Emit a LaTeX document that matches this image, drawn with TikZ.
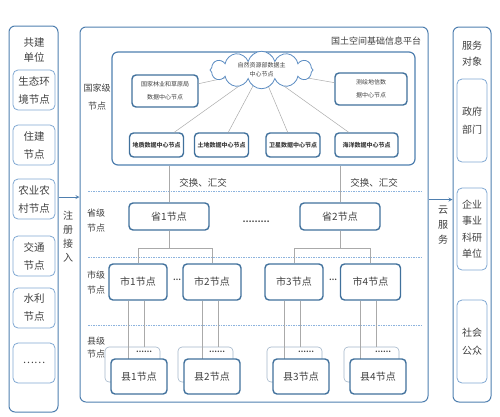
\documentclass[tikz,border=0pt]{standalone}
\usepackage{fontspec}
\setmainfont{Noto Sans CJK SC}
\usepackage{xcolor}
\usetikzlibrary{shapes.geometric, shapes.symbols, arrows, positioning, calc}
\definecolor{panelblue}{HTML}{4F7FAF}
\definecolor{boxblue}{HTML}{41719C}
\definecolor{unitblue}{HTML}{7FA7D2}
\definecolor{backblue}{HTML}{A3B6CA}
\definecolor{cloudblue}{HTML}{5B8CC2}
\definecolor{dotblue}{HTML}{8DB3DD}
\definecolor{linegray}{HTML}{AAAAAA}
\definecolor{textgray}{HTML}{404040}
\tikzstyle{panel} = [rectangle, rounded corners=6pt, draw=panelblue, line width=1pt, inner sep=0pt]
\tikzstyle{unit} = [rectangle, rounded corners=5pt, draw=unitblue, line width=0.8pt, inner sep=0pt, minimum width=42pt, minimum height=40pt, align=center, text=textgray, font=\fontsize{10.5}{18}\selectfont]
\tikzstyle{process} = [rectangle, rounded corners=4pt, draw=boxblue, line width=1.4pt, fill=white, inner sep=0pt, text centered, text=textgray, font=\fontsize{10}{12}\selectfont]
\tikzstyle{datacenter} = [process, minimum height=24pt, minimum width=54pt, font=\fontsize{6}{8}\selectfont\bfseries]
\tikzstyle{backbox} = [rectangle, rounded corners=4pt, draw=backblue, line width=0.6pt, fill=white, minimum width=55pt, minimum height=35pt]
\tikzstyle{levellabel} = [align=center, text=textgray, font=\fontsize{9}{15}\selectfont]
\tikzstyle{dotlabel} = [text=textgray, inner sep=0pt, font=\fontsize{7}{8}\selectfont\bfseries]
\tikzstyle{arrow} = [thick,->,>=stealth, draw=panelblue]
\tikzstyle{link} = [draw=linegray, line width=0.5pt]
\tikzstyle{sep} = [draw=dotblue, line width=0.6pt, dash pattern=on 1.5pt off 1pt]

\begin{document}
\begin{tikzpicture}[x=1pt, y=-1pt]
\useasboundingbox (0,0) rectangle (500,416);

% Pannelli
\node (gongjian) [panel, minimum width=49pt, minimum height=386pt] at (33.5,219) {};
\node (pingtai) [panel, minimum width=348pt, minimum height=375pt] at (254,214.5) {};
\node (fuwu) [panel, minimum width=38pt, minimum height=375pt] at (472,214.5) {};
\node (guojia) [panel, line width=1.2pt, minimum width=303pt, minimum height=113pt] at (263.5,108.5) {};

% Unita' di costruzione
\node (gongjiantitle) [levellabel, font=\fontsize{10.5}{16}\selectfont] at (34,50) {共建\\单位};
\node (shengtai) [unit] at (34,90) {生态环\\境节点};
\node (zhujian) [unit] at (34,145) {住建\\节点};
\node (nongye) [unit] at (34,199) {农业农\\村节点};
\node (jiaotong) [unit] at (34,256) {交通\\节点};
\node (shuili) [unit] at (34,308) {水利\\节点};
\node (qita) [unit] at (34,363) {……};

% Oggetti di servizio
\node (fuwutitle) [levellabel, font=\fontsize{10}{16}\selectfont] at (472,54) {服务\\对象};
\node (zhengfu) [unit, minimum width=30pt, minimum height=83pt, font=\fontsize{10}{18}\selectfont] at (472,120.5) {政府\\部门};
\node (qiye) [unit, minimum width=30pt, minimum height=82pt, font=\fontsize{10}{16.5}\selectfont] at (472,229) {企业\\事业\\科研\\单位};
\node (gongzhong) [unit, minimum width=30pt, minimum height=83pt, font=\fontsize{10}{18}\selectfont] at (472,341.5) {社会\\公众};

% Livello nazionale
\node (title) [levellabel] at (376,41) {国土空间基础信息平台};
\node (guojialabel) [levellabel, font=\fontsize{9}{18}\selectfont] at (97,97) {国家级\\节点};
\node (linye) [process, minimum width=66pt, minimum height=32pt, align=center, font=\fontsize{6}{13}\selectfont] at (165,91) {国家林业和草原局\\数据中心节点};
\node (cehui) [process, minimum width=72pt, minimum height=32pt, align=center, font=\fontsize{6}{13}\selectfont] at (371,89) {测绘地信数\\据中心节点};
\node (dizhi) [datacenter] at (156.5,145) {地质数据中心节点};
\node (tudi) [datacenter] at (221.5,145) {土地数据中心节点};
\node (weixing) [datacenter] at (293,145) {卫星数据中心节点};
\node (haiyang) [datacenter, minimum width=63pt] at (366.5,145) {海洋数据中心节点};
\foreach \n in {linye, dizhi, tudi, weixing, haiyang, cehui}
  \draw [link] (261.5,70) -- (\n);
\node (ziran) [shape=cloud, cloud puffs=12, aspect=4.3, draw=cloudblue, line width=0.8pt, fill=white, minimum width=103pt, minimum height=24pt, inner sep=0pt, align=center, text=textgray, font=\fontsize{6}{9}\selectfont] at (261.5,70) {自然资源部数据主\\中心节点};

% Separatori
\draw [sep] (88,191) -- (423,191);
\draw [sep] (88,257) -- (423,257);
\draw [sep] (88,325) -- (423,325);
\node (huijiao1) [levellabel, font=\fontsize{9.5}{12}\selectfont] at (203,183) {交换、汇交};
\node (huijiao2) [levellabel, font=\fontsize{9.5}{12}\selectfont] at (374,183) {交换、汇交};

% Livello provinciale
\node (shenglabel) [levellabel] at (96,221) {省级\\节点};
\node (sheng1) [process, minimum width=80pt, minimum height=27pt] at (169,216.5) {省1节点};
\node (sheng2) [process, minimum width=80pt, minimum height=27pt] at (340,216.5) {省2节点};
\node (shengdots) [dotlabel, font=\fontsize{8}{8}\selectfont\bfseries] at (256,222) {………};
\draw [link] (sheng1.north |- guojia.south) -- (sheng1.north);
\draw [link] (sheng2.north |- guojia.south) -- (sheng2.north);

% Livello comunale
\node (shilabel) [levellabel] at (96,283) {市级\\节点};
\node (shi1) [process, minimum width=58pt, minimum height=36pt] at (138,282) {市1节点};
\node (shi2) [process, minimum width=58pt, minimum height=36pt] at (212,282) {市2节点};
\node (shi3) [process, minimum width=58pt, minimum height=36pt] at (294,282) {市3节点};
\node (shi4) [process, minimum width=60pt, minimum height=36pt] at (370.5,282) {市4节点};
\node (shidots1) [dotlabel] at (177,280) {…};
\node (shidots2) [dotlabel] at (333,280) {…};
\draw [link] (sheng1.south) -- ++(0,18) -| (shi1.north);
\draw [link] (sheng1.south) -- ++(0,18) -| (shi2.north);
\draw [link] (sheng2.south) -- ++(0,18) -| (shi3.north);
\draw [link] (sheng2.south) -- ++(0,18) -| (shi4.north);

% Livello di contea
\node (xianlabel) [levellabel, font=\fontsize{9}{13}\selectfont] at (96,348) {县级\\节点};
\foreach \i/\x in {1/139, 2/212, 3/301, 4/378} {
  \node (xianb\i) [backbox] at ({\x-6.5},364.5) {};
  \node (xiandots\i) [dotlabel] at ({\x+5},352) {……};
  \draw [link] ([xshift=-10pt]shi\i.south) -- ([xshift=-10pt]shi\i.south |- 0,359);
  \draw [link] ([xshift=6pt]shi\i.south) -- ([xshift=6pt]shi\i.south |- xianb\i.north);
  \node (xian\i) [process, minimum width=56pt, minimum height=35pt] at (\x,376.5) {县{\i}节点};
}

% Connessioni esterne
\node (zhuce) [levellabel, font=\fontsize{10}{14}\selectfont] at (68,237) {注\\册\\接\\入};
\node (yunfuwu) [levellabel, font=\fontsize{10}{15}\selectfont] at (443,225) {云\\服\\务};
\draw [arrow] ([yshift=22pt]gongjian.east) -- ([yshift=22pt]gongjian.east -| pingtai.west);
\draw [arrow] ([yshift=15pt]pingtai.east) -- ([yshift=15pt]pingtai.east -| fuwu.west);

\end{tikzpicture}
\end{document}
